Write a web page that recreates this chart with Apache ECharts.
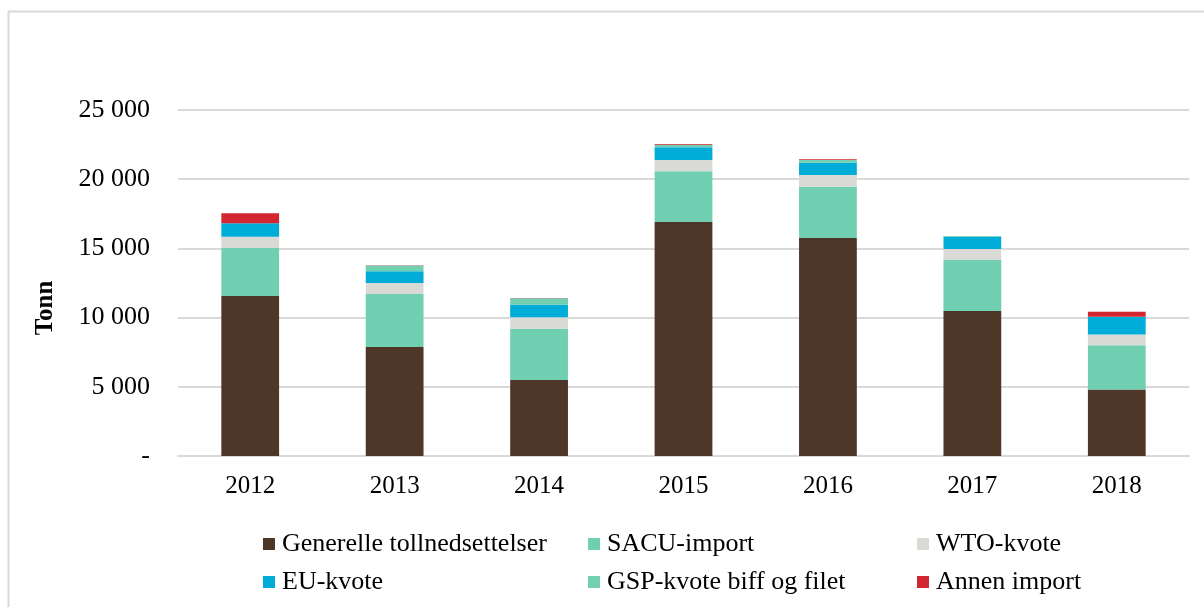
<!DOCTYPE html>
<html>
<head>
<meta charset="utf-8">
<script src="https://cdn.jsdelivr.net/npm/echarts@6/dist/echarts.min.js"></script>
<style>
  html, body { margin: 0; padding: 0; background: #fff; }
  #main { width: 1204px; height: 607px; }
</style>
</head>
<body>
<div id="main"></div>
<script>
// years on the x axis
var years = ["2012", "2013", "2014", "2015", "2016", "2017", "2018"];

// tonn per category
var generelle = [11560, 7880, 5490, 16910, 15750, 10480, 4800];
var sacu = [3470, 3830, 3710, 3660, 3710, 3680, 3200];
var wto = [820, 790, 820, 820, 840, 800, 770];
var euKvote = [960, 850, 910, 910, 890, 890, 1300];
var gsp = [0, 410, 460, 190, 200, 50, 0];
var annen = [730, 30, 30, 50, 60, 0, 360];

var serif = "Liberation Serif";

var myChart = echarts.init(document.getElementById("main"));

function bar(name, data, color) {
  return {
    name: name,
    type: "bar",
    stack: "total",
    barWidth: "40%",
    data: data,
    itemStyle: { color: color },
    animation: false
  };
}

function legendCol(left, names) {
  return {
    orient: "vertical",
    left: left,
    top: 526,
    itemWidth: 12,
    itemHeight: 12,
    itemGap: 12,
    icon: "rect",
    data: names,
    textStyle: { fontFamily: serif, fontSize: 26, color: "#000", padding: [0, 0, 0, 2] }
  };
}

var option = {
  backgroundColor: "#fff",
  graphic: [
    {
      type: "polyline",
      shape: { points: [[8.5, 607], [8.5, 11.5], [1204, 11.5]] },
      style: { stroke: "#d9d9d9", lineWidth: 2, fill: null }
    }
  ],
  grid: { left: 178, right: 15, top: 110, bottom: 151, outerBoundsMode: "none", containLabel: false },
  legend: [
    legendCol(258, ["Generelle tollnedsettelser", "EU-kvote"]),
    legendCol(583, ["SACU-import", "GSP-kvote biff og filet"]),
    legendCol(912, ["WTO-kvote", "Annen import"])
  ],
  xAxis: {
    type: "category",
    data: years,
    axisTick: { show: false },
    axisLine: { lineStyle: { color: "#d9d9d9", width: 2 } },
    axisLabel: { fontFamily: serif, fontSize: 25, color: "#000", margin: 18 }
  },
  yAxis: {
    type: "value",
    min: 0,
    max: 25000,
    interval: 5000,
    name: "Tonn",
    nameLocation: "middle",
    nameGap: 120,
    nameRotate: 90,
    nameTextStyle: { fontFamily: serif, fontSize: 25, fontWeight: "bold", color: "#000", padding: [0, 50, 0, 0] },
    axisLine: { show: false },
    axisTick: { show: false },
    splitLine: { lineStyle: { color: "#d9d9d9", width: 2 } },
    axisLabel: {
      fontFamily: serif,
      fontSize: 26,
      color: "#000",
      margin: 28,
      formatter: function (v) {
        if (v === 0) return "-";
        var k = Math.floor(v / 1000);
        return k + " 000";
      }
    }
  },
  series: [
    bar("Generelle tollnedsettelser", generelle, "#4e3629"),
    bar("SACU-import", sacu, "#70cfb1"),
    bar("WTO-kvote", wto, "#d9d9d6"),
    bar("EU-kvote", euKvote, "#00acd8"),
    bar("GSP-kvote biff og filet", gsp, "#71cfb2"),
    bar("Annen import", annen, "#d22630")
  ]
};

myChart.setOption(option);
</script>
</body>
</html>
